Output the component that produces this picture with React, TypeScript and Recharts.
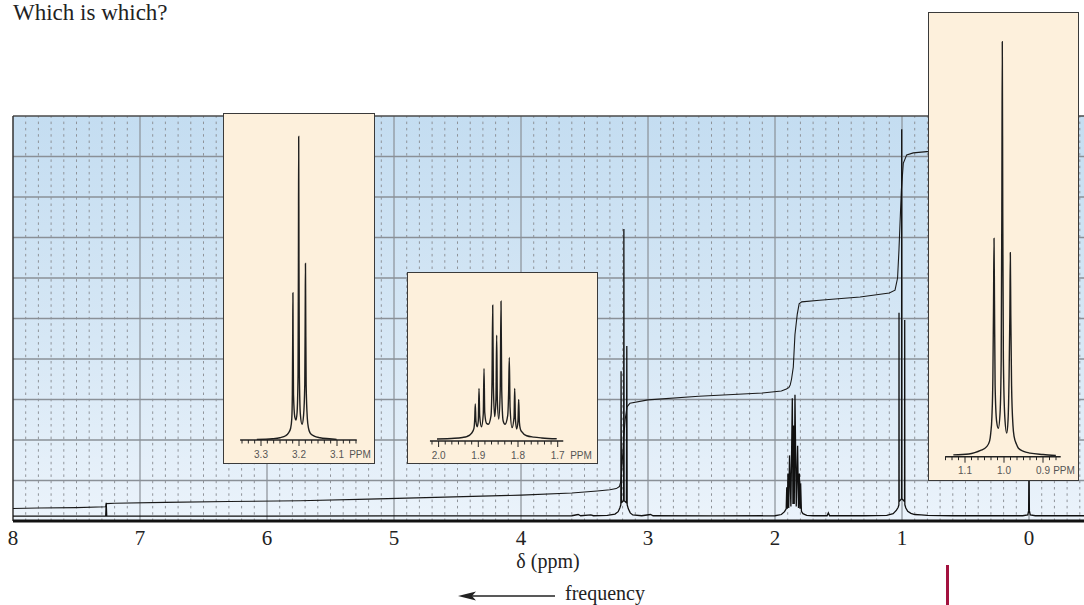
import React from 'react';
import { LineChart, Line, XAxis, YAxis, ReferenceLine } from 'recharts';

// ppm vs. relative height (0-100 of the plot area)
const spectrum: [number, number][] = [
  [8.0, 1.2], [7.4, 1.2], [7.27, 1.2], [7.266, 4.5], [7.262, 1.2], [6.0, 1.2], [5.0, 1.25], [4.0, 1.25],
  [3.6, 1.3], [3.55, 1.6], [3.53, 1.3], [3.45, 1.5], [3.43, 1.3], [3.32, 1.4], [3.26, 1.7], [3.235, 2.3],
  [3.222, 3.2], [3.214, 4.0], [3.212, 37.0], [3.209, 4.5], [3.192, 5.0], [3.19, 72.1], [3.188, 5.0],
  [3.17, 4.5], [3.167, 43.2], [3.164, 4.0], [3.155, 3.0], [3.14, 2.0], [3.12, 1.5], [3.05, 1.3],
  [2.98, 1.6], [2.96, 1.3], [2.5, 1.25], [2.0, 1.3], [1.95, 1.6], [1.925, 2.3], [1.912, 3.0],
  [1.9076, 8.3], [1.903, 3.0], [1.8982, 11.7], [1.892, 3.2], [1.8856, 16.2], [1.875, 3.6],
  [1.8637, 30.3], [1.8587, 4.2], [1.8537, 23.6], [1.8484, 4.2], [1.8428, 31.2], [1.8327, 3.6],
  [1.8219, 18.6], [1.8151, 3.2], [1.8083, 11.7], [1.8033, 3.0], [1.7982, 9.3], [1.792, 2.4],
  [1.78, 1.8], [1.75, 1.4], [1.7, 1.3], [1.59, 1.3], [1.58, 2.0], [1.57, 1.3], [1.3, 1.3], [1.12, 1.4],
  [1.07, 1.8], [1.045, 2.6], [1.03, 3.4], [1.0245, 4.0], [1.0236, 51.4], [1.0225, 4.8], [1.0035, 5.5],
  [1.0024, 96.7], [1.0013, 5.5], [0.98, 4.8], [0.9787, 49.6], [0.9775, 4.0], [0.97, 3.2], [0.955, 2.4],
  [0.93, 1.9], [0.9, 1.6], [0.85, 1.5], [0.8, 1.4], [0.6, 1.3], [0.05, 1.3], [0.01, 1.5], [0.003, 2.5],
  [0, 14], [-0.003, 2.5], [-0.01, 1.5], [-0.05, 1.3], [-0.433, 1.3],
];

const integral: [number, number][] = [
  [8.0, 3.1], [7.8, 3.2], [7.5, 3.3], [7.27, 3.5], [7.264, 4.3], [7.2, 4.4], [6.8, 4.6], [6.3, 4.8],
  [5.74, 5.0], [5.2, 5.4], [4.6, 5.9], [4.0, 6.4], [3.6, 6.9], [3.4, 7.4], [3.3, 7.7], [3.25, 8.0],
  [3.225, 8.5], [3.212, 10], [3.2, 16], [3.19, 21], [3.18, 25], [3.165, 28.2], [3.142, 29.1],
  [3.0, 29.9], [2.6, 30.8], [2.1, 31.6], [1.95, 32.1], [1.91, 32.6], [1.89, 33.0], [1.88, 33.6],
  [1.87, 35], [1.856, 38], [1.843, 46], [1.825, 51], [1.81, 53.6], [1.79, 54.1], [1.65, 54.5],
  [1.33, 55.3], [1.1, 56.3], [1.055, 57.0], [1.035, 60], [1.024, 66.9], [1.005, 81.7], [0.99, 88.3],
  [0.963, 90.4], [0.911, 90.9], [0.806, 91.2], [0.6, 91.4],
];

// expanded views
const tripletNear32: [number, number][] = [
  [3.311, 0.2], [3.27, 0.4], [3.25, 0.7], [3.235, 1.3], [3.228, 2.1], [3.222, 3.6], [3.219, 6.5],
  [3.2175, 14], [3.2165, 32], [3.216, 45.0], [3.2155, 32], [3.2145, 14], [3.211, 7.0], [3.208, 6.1],
  [3.205, 8.5], [3.2025, 20], [3.2015, 55], [3.2008, 92.8], [3.2001, 55], [3.199, 20], [3.1965, 8.0],
  [3.192, 4.8], [3.188, 7.5], [3.1848, 17], [3.1837, 38], [3.183, 54.0], [3.1823, 38], [3.1812, 17],
  [3.178, 6.5], [3.175, 3.6], [3.171, 2.2], [3.16, 1.2], [3.145, 0.7], [3.12, 0.4], [3.101, 0.2],
];

const multipletNear185: [number, number][] = [
  [2.004, 1.2], [1.96, 1.6], [1.94, 2.1], [1.929, 2.6], [1.9166, 4.7], [1.911, 7.5], [1.909, 13],
  [1.9076, 21.9], [1.906, 12], [1.9028, 8.4], [1.9, 12], [1.8982, 31.1], [1.8965, 15], [1.892, 8.4],
  [1.8875, 16], [1.8856, 42.9], [1.8838, 17], [1.8795, 10.5], [1.8748, 9.9], [1.868, 15],
  [1.8655, 35], [1.8637, 80.3], [1.862, 32], [1.8587, 14.4], [1.8555, 25], [1.8537, 62.6],
  [1.852, 24], [1.8484, 13.0], [1.8448, 30], [1.8428, 82.7], [1.841, 30], [1.8375, 12],
  [1.8327, 9.9], [1.826, 15], [1.8237, 28], [1.8219, 49.4], [1.82, 20], [1.8151, 7.9], [1.81, 14],
  [1.8083, 31.1], [1.8065, 13], [1.8033, 7.1], [1.8, 12], [1.7982, 24.6], [1.7965, 11], [1.794, 7],
  [1.7907, 5.5], [1.7781, 3.1], [1.76, 2.3], [1.74, 1.8], [1.7025, 1.3],
];

const tripletNear10: [number, number][] = [
  [1.13, 0.4], [1.09, 0.6], [1.075, 0.9], [1.06, 1.4], [1.045, 2.2], [1.037, 3.5], [1.034, 5.3],
  [1.031, 9], [1.0285, 18], [1.0268, 35], [1.0256, 49.1], [1.0244, 35], [1.0228, 16], [1.019, 8],
  [1.0146, 6.4], [1.01, 10], [1.0072, 22], [1.0056, 55], [1.0044, 93.3], [1.0032, 55], [1.0016, 22],
  [0.998, 9], [0.993, 5.3], [0.9895, 8.5], [0.987, 18], [0.985, 32], [0.9838, 45.9], [0.9826, 32],
  [0.9806, 16], [0.977, 7], [0.974, 4.5], [0.968, 2.8], [0.963, 1.9], [0.95, 1.2], [0.933, 0.8],
  [0.9, 0.5], [0.867, 0.3],
];

const mainTicks = [0, 1, 2, 3, 4, 5, 6, 7, 8];
const gridRows = [10, 20, 30, 40, 50, 60, 70, 80, 90];

const serif = '"Liberation Serif", "Times New Roman", serif';
const sans = '"Liberation Sans", Arial, sans-serif';

const toPts = (arr: [number, number][]) => arr.map(([p, v]) => ({ p, v }));

// dashed lines every 0.1 ppm, skipping whole numbers
const minorGrid: number[] = [];
for (let n = -4; n < 80; n++) {
  if (n % 10 !== 0) minorGrid.push(n / 10);
}

// inset axis ticks every 5 Hz (1/60 ppm at 300 MHz)
const hzTicks = (lo: number, hi: number) => {
  const out: number[] = [];
  for (let n = Math.ceil(lo * 60 - 1e-6); n <= Math.floor(hi * 60 + 1e-6); n++) out.push(n / 60);
  return out;
};

const InsetTick = (props: any) => {
  const { x, y, payload } = props;
  const v = payload.value;
  const major = Math.abs(v * 10 - Math.round(v * 10)) < 1e-6;
  return (
    <g>
      <line x1={x} y1={y} x2={x} y2={y + (major ? 6 : 3.5)} stroke="#222" strokeWidth={1} />
      {major && (
        <text x={x} y={y + 17.5} textAnchor="middle" fontSize={10} fill="#555" fontFamily={sans}>
          {v.toFixed(1)}
        </text>
      )}
    </g>
  );
};

interface InsetProps {
  left: number;
  top: number;
  width: number;
  height: number;
  axisY: number;
  domain: [number, number];
  axisFrom: number;
  axisTo: number;
  ticks: number[];
  data: [number, number][];
}

const Inset: React.FC<InsetProps> = ({ left, top, width, height, axisY, domain, axisFrom, axisTo, ticks, data }) => (
  <div
    style={{
      position: 'absolute', left, top, width, height, background: '#fdf0dc',
      outline: '1.5px solid #3a3a3a', outlineOffset: -1.5,
    }}
  >
    <LineChart width={width} height={height} data={toPts(data)} margin={{ top: 0, right: 0, bottom: 0, left: 0 }}>
      <XAxis
        type="number" dataKey="p" domain={domain} reversed allowDataOverflow
        ticks={ticks} interval={0} tickLine={false} axisLine={false} tickSize={0} tickMargin={0}
        height={height - (axisY - top)} tick={<InsetTick />}
      />
      <YAxis type="number" domain={[0, 100]} hide allowDataOverflow />
      <ReferenceLine
        segment={[{ x: axisFrom, y: 0 }, { x: axisTo, y: 0 }]}
        stroke="#222" strokeWidth={1.4} ifOverflow="visible"
      />
      <Line type="monotone" dataKey="v" stroke="#1f1f1f" strokeWidth={1.4} dot={false} isAnimationActive={false} />
    </LineChart>
  </div>
);

const App: React.FC = () => {
  return (
    <div style={{ position: 'absolute', left: 0, top: 0, width: 1084, height: 605, background: '#fff', overflow: 'hidden' }}>
      {/* plot background */}
      <div
        style={{
          position: 'absolute', left: 13, top: 116, width: 1071, height: 405,
          background: 'linear-gradient(to bottom, #c4ddf1 0%, #d6e7f5 55%, #ebf3fb 100%)',
        }}
      />

      <div style={{ position: 'absolute', left: 0, top: 0 }}>
        <LineChart width={1084} height={605} margin={{ top: 116, right: 0, bottom: 0, left: 13 }}>
          <XAxis
            type="number" dataKey="p" domain={[-0.433, 8]} reversed allowDataOverflow
            ticks={mainTicks} interval={0} tickLine={false} tickSize={0} tickMargin={9} height={84}
            axisLine={{ stroke: '#111', strokeWidth: 3 }}
            tick={{ fill: '#222', fontSize: 21, fontFamily: serif }}
          />
          <YAxis type="number" domain={[0, 100]} hide allowDataOverflow />

          {minorGrid.map((v) => (
            <ReferenceLine key={'m' + v} x={v} stroke="#8f9399" strokeWidth={1} strokeDasharray="2.5 3.8" />
          ))}
          {mainTicks.slice(0, 8).map((v) => (
            <ReferenceLine key={'M' + v} x={v} stroke="#8a9097" strokeWidth={1.2} />
          ))}
          {gridRows.map((v) => (
            <ReferenceLine key={'h' + v} y={v} stroke="#8a9097" strokeWidth={1.3} />
          ))}
          <ReferenceLine y={100} stroke="#4a4a4a" strokeWidth={1.5} />
          <ReferenceLine x={8} stroke="#333" strokeWidth={1.5} />

          <Line data={toPts(integral)} dataKey="v" type="linear" stroke="#1a1a1a" strokeWidth={1.1} dot={false} isAnimationActive={false} />
          <Line data={toPts(spectrum)} dataKey="v" type="linear" stroke="#111" strokeWidth={1.3} dot={false} isAnimationActive={false} />
        </LineChart>
      </div>

      <Inset
        left={223} top={113} width={152} height={351} axisY={440}
        domain={[3.0, 3.4]} axisFrom={3.355} axisTo={3.048}
        ticks={hzTicks(3.05, 3.35)} data={tripletNear32}
      />
      <Inset
        left={407} top={272} width={191} height={192} axisY={441}
        domain={[1.5985, 2.0796]} axisFrom={2.0218} axisTo={1.686}
        ticks={hzTicks(1.69, 2.02)} data={multipletNear185}
      />
      <Inset
        left={928} top={12} width={151} height={469} axisY={456.7}
        domain={[0.8077, 1.1949]} axisFrom={1.151} axisTo={0.8546}
        ticks={hzTicks(0.86, 1.151)} data={tripletNear10}
      />

      <svg width={1084} height={605} style={{ position: 'absolute', left: 0, top: 0, pointerEvents: 'none' }}>
        <text x={13} y={20} fontSize={23} fontFamily={serif} fill="#222">Which is which?</text>
        <text x={548} y={568} fontSize={20} fontFamily={serif} fill="#222" textAnchor="middle">δ (ppm)</text>
        <line x1={470} y1={596} x2={555} y2={596} stroke="#222" strokeWidth={1.3} />
        <path d="M458,596 L476,591.5 L472,596 L476,600.5 Z" fill="#222" />
        <text x={565} y={600} fontSize={20} fontFamily={serif} fill="#222">frequency</text>
        <line x1={947.5} y1={565} x2={947.5} y2={605} stroke="#a3123f" strokeWidth={3} />
        <text x={360} y={457.5} fontSize={10} fontFamily={sans} fill="#555" textAnchor="middle">PPM</text>
        <text x={581} y={458.5} fontSize={10} fontFamily={sans} fill="#555" textAnchor="middle">PPM</text>
        <text x={1064} y={474} fontSize={10} fontFamily={sans} fill="#555" textAnchor="middle">PPM</text>
      </svg>
    </div>
  );
};

export default App;
